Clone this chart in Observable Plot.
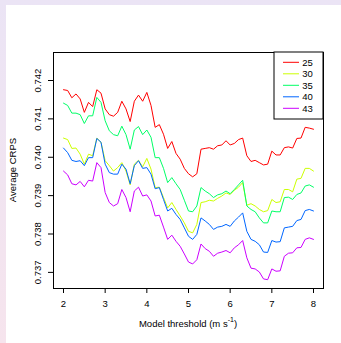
<!DOCTYPE html>
<html><head><meta charset="utf-8">
<script src="https://cdn.jsdelivr.net/npm/d3@7"></script>
<script src="https://cdn.jsdelivr.net/npm/@observablehq/plot@0.6"></script>
<style>
html,body{margin:0;padding:0;}
body{width:341px;height:343px;overflow:hidden;position:relative;background:linear-gradient(to bottom,#ebe4f5,#f6e4ed);}
#paper{position:absolute;left:6px;top:5px;right:0;bottom:0;background:#fff;}
#chart{position:absolute;left:0;top:0;}
</style></head><body><div id="paper"></div><div id="chart"></div>
<script>
const thresholds = [2.0,2.1,2.2,2.3,2.4,2.5,2.6,2.7,2.8,2.9,
  3.0,3.1,3.2,3.3,3.4,3.5,3.6,3.7,3.8,3.9,
  4.0,4.1,4.2,4.3,4.4,4.5,4.6,4.7,4.8,4.9,
  5.0,5.1,5.2,5.3,5.4,5.5,5.6,5.7,5.8,5.9,
  6.0,6.1,6.2,6.3,6.4,6.5,6.6,6.7,6.8,6.9,
  7.0,7.1,7.2,7.3,7.4,7.5,7.6,7.7,7.8,7.9,8.0];

const crps25 = [0.74176,0.74174,0.74155,0.74165,0.74152,0.74117,0.74143,0.74132,0.74176,0.74167,
0.74126,0.74111,0.74107,0.74117,0.74146,0.74126,0.74093,0.74146,0.74162,0.74146,
0.74169,0.74135,0.74078,0.74085,0.74060,0.74023,0.74041,0.74010,0.73995,0.73971,
0.73957,0.73949,0.73957,0.74021,0.74023,0.74025,0.74021,0.74030,0.74032,0.74043,
0.74032,0.74036,0.74046,0.74050,0.74004,0.73989,0.73992,0.73986,0.73980,0.73982,
0.74016,0.74006,0.74006,0.74025,0.74027,0.74024,0.74049,0.74050,0.74078,0.74076,
0.74073];

const crps30 = [0.74050,0.74046,0.74023,0.74024,0.74008,0.73982,0.74008,0.74004,0.74050,0.74039,
0.73991,0.73978,0.73964,0.73973,0.73986,0.73964,0.73928,0.73982,0.73992,0.73975,
0.73997,0.73969,0.73921,0.73922,0.73895,0.73868,0.73882,0.73864,0.73847,0.73829,
0.73807,0.73803,0.73825,0.73882,0.73884,0.73888,0.73886,0.73893,0.73899,0.73907,
0.73903,0.73914,0.73922,0.73934,0.73875,0.73879,0.73873,0.73864,0.73858,0.73861,
0.73890,0.73882,0.73884,0.73916,0.73916,0.73910,0.73943,0.73945,0.73971,0.73971,
0.73964];

const crps35 = [0.74141,0.74135,0.74115,0.74115,0.74111,0.74088,0.74108,0.74108,0.74156,0.74143,
0.74095,0.74069,0.74059,0.74056,0.74081,0.74059,0.74021,0.74071,0.74080,0.74059,
0.74071,0.74052,0.73999,0.73999,0.73971,0.73934,0.73947,0.73931,0.73916,0.73888,
0.73860,0.73858,0.73873,0.73921,0.73912,0.73905,0.73895,0.73902,0.73905,0.73912,
0.73905,0.73916,0.73928,0.73940,0.73873,0.73864,0.73858,0.73842,0.73829,0.73829,
0.73860,0.73858,0.73858,0.73895,0.73896,0.73890,0.73903,0.73907,0.73925,0.73928,
0.73922];

const crps40 = [0.74024,0.74012,0.73992,0.73989,0.73991,0.73978,0.73999,0.73999,0.74049,0.74039,
0.73982,0.73960,0.73956,0.73956,0.73982,0.73969,0.73931,0.73978,0.73991,0.73971,
0.73973,0.73956,0.73918,0.73921,0.73890,0.73860,0.73867,0.73851,0.73838,0.73816,
0.73794,0.73786,0.73799,0.73842,0.73834,0.73825,0.73812,0.73818,0.73820,0.73825,
0.73820,0.73834,0.73844,0.73855,0.73807,0.73786,0.73781,0.73772,0.73753,0.73752,
0.73783,0.73779,0.73780,0.73816,0.73818,0.73820,0.73835,0.73838,0.73861,0.73864,
0.73860];

const crps43 = [0.73964,0.73954,0.73931,0.73928,0.73937,0.73923,0.73940,0.73938,0.73986,0.73973,
0.73908,0.73882,0.73873,0.73879,0.73916,0.73895,0.73858,0.73912,0.73922,0.73899,
0.73902,0.73886,0.73847,0.73849,0.73818,0.73786,0.73797,0.73781,0.73768,0.73748,
0.73727,0.73722,0.73733,0.73774,0.73762,0.73755,0.73742,0.73750,0.73753,0.73757,
0.73751,0.73764,0.73772,0.73783,0.73738,0.73711,0.73709,0.73701,0.73683,0.73681,
0.73709,0.73703,0.73704,0.73742,0.73750,0.73751,0.73764,0.73765,0.73786,0.73790,
0.73786];

const seriesNames = ["25","30","35","40","43"];
const seriesColors = ["#FF0000","#CCFF00","#00FF66","#0066FF","#CC00FF"];
const seriesValues = [crps25, crps30, crps35, crps40, crps43];
const xTicks = [2,3,4,5,6,7,8];
const yTicks = [0.737,0.738,0.739,0.740,0.741,0.742];
const xTitle = "Model threshold (m s";
const xTitleSup = "-1";
const yTitle = "Average CRPS";

const data = [];
seriesNames.forEach((s,k) => thresholds.forEach((t,i) => data.push({series:s, threshold:t, crps:seriesValues[k][i]})));

const W=341, H=343, mL=53, mR=18, mT=52, mB=55;
const font = "'Liberation Sans', Arial, Helvetica, sans-serif";

const chart = Plot.plot({
  width: W, height: H, marginLeft: mL, marginRight: mR, marginTop: mT, marginBottom: mB,
  style: {background: "transparent", fontFamily: font, fontSize: "9.5px", color: "black"},
  x: {domain: [1.76, 8.24]},
  y: {domain: [0.73658, 0.74273]},
  color: {domain: seriesNames, range: seriesColors},
  marks: [
    Plot.axisX({ticks: xTicks, tickSize: 5, tickPadding: 7, tickFormat: d => String(d), label: null}),
    Plot.axisY({ticks: yTicks, tickSize: 5, tickPadding: 8, tickRotate: -90, tickFormat: d3.format(".3f"), label: null}),
    Plot.line(data, {x: "threshold", y: "crps", z: "series", stroke: "series", strokeWidth: 1}),
    Plot.frame({stroke: "black", strokeWidth: 1})
  ]
});
document.getElementById("chart").appendChild(chart);

const svg = d3.select(chart);
// axis titles
const xt = svg.append("text")
  .attr("x", (mL + W - mR) / 2).attr("y", 326.5)
  .attr("text-anchor", "middle")
  .style("font-family", font).style("font-size", "9.5px").attr("fill", "black");
xt.append("tspan").text(xTitle);
xt.append("tspan").attr("dy", -5).style("font-size", "7px").text(xTitleSup);
xt.append("tspan").attr("dy", 5).text(")");

svg.append("text")
  .attr("transform", `translate(15.5,${(mT + H - mB) / 2}) rotate(-90)`)
  .attr("text-anchor", "middle")
  .style("font-family", font).style("font-size", "9.5px").attr("fill", "black")
  .text(yTitle);

// legend
const lg = svg.append("g");
lg.append("rect").attr("x", 274).attr("y", mT).attr("width", W - mR - 274).attr("height", 67)
  .attr("fill", "white").attr("stroke", "black").attr("stroke-width", 1);
seriesNames.forEach((s, i) => {
  const yy = 62.3 + i * 11.5;
  lg.append("line").attr("x1", 283).attr("x2", 299).attr("y1", yy).attr("y2", yy)
    .attr("stroke", seriesColors[i]).attr("stroke-width", 1);
  lg.append("text").attr("x", 307.5).attr("y", yy).attr("dy", "0.35em")
    .style("font-family", font).style("font-size", "9.5px").attr("fill", "black").text(s);
});
</script>
</body></html>
